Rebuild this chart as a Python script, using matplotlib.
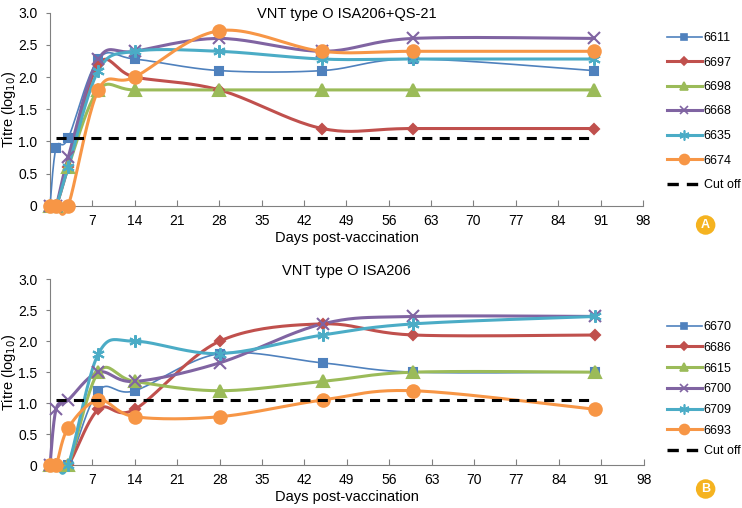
import numpy as np
import matplotlib
matplotlib.use("Agg")
import matplotlib.pyplot as plt
from matplotlib.lines import Line2D

plt.rcParams['font.family'] = ['Liberation Sans Narrow', 'Liberation Sans', 'DejaVu Sans']

days = [0, 1, 3, 8, 14, 28, 45, 60, 90]
cutoff = 1.05
cutoff_days = [1, 90]

# panel A: ISA206+QS-21
names_a = ["6611", "6697", "6698", "6668", "6635", "6674"]
titre_6611 = [0, 0.9, 1.05, 2.28, 2.28, 2.1, 2.1, 2.28, 2.1]
titre_6697 = [0, 0, 0.6, 2.2, 2.0, 1.8, 1.2, 1.2, 1.2]
titre_6698 = [0, 0, 0.6, 1.8, 1.8, 1.8, 1.8, 1.8, 1.8]
titre_6668 = [0, 0, 0.75, 2.28, 2.4, 2.6, 2.4, 2.6, 2.6]
titre_6635 = [0, 0, 0.6, 2.1, 2.4, 2.4, 2.28, 2.28, 2.28]
titre_6674 = [0, 0, 0, 1.8, 2.0, 2.72, 2.4, 2.4, 2.4]

# panel B: ISA206
names_b = ["6670", "6686", "6615", "6700", "6709", "6693"]
titre_6670 = [0, 0, 0, 1.2, 1.2, 1.8, 1.65, 1.5, 1.5]
titre_6686 = [0, 0, 0, 0.9, 0.9, 2.0, 2.28, 2.1, 2.1]
titre_6615 = [0, 0, 0, 1.5, 1.35, 1.2, 1.35, 1.5, 1.5]
titre_6700 = [0, 0.9, 1.05, 1.5, 1.35, 1.65, 2.28, 2.4, 2.4]
titre_6709 = [0, 0, 0, 1.8, 2.0, 1.8, 2.1, 2.28, 2.4]
titre_6693 = [0, 0, 0.6, 1.05, 0.78, 0.78, 1.05, 1.2, 0.9]

series_a = [titre_6611, titre_6697, titre_6698, titre_6668, titre_6635, titre_6674]
series_b = [titre_6670, titre_6686, titre_6615, titre_6700, titre_6709, titre_6693]

colors = ["#4F81BD", "#C0504D", "#9BBB59", "#8064A2", "#4BACC6", "#F79646"]
markers = ["s", "D", "^", "x", (6, 2, 0), "o"]
msizes = [6, 5, 8, 8, 9, 9]
lws = [1.2, 2.2, 2.2, 2.2, 2.2, 2.2]


def smooth(x, y, sx, sy, n=24):
    # Excel-like smoothed line (Catmull-Rom bezier in screen space)
    p = np.column_stack([np.asarray(x, float) * sx, np.asarray(y, float) * sy])
    out = [p[0]]
    for i in range(len(p) - 1):
        p0 = p[i - 1] if i > 0 else p[i]
        p1, p2 = p[i], p[i + 1]
        p3 = p[i + 2] if i + 2 < len(p) else p[i + 1]
        c1 = p1 + (p2 - p0) / 6
        c2 = p2 - (p3 - p1) / 6
        t = np.linspace(0, 1, n)[1:, None]
        seg = (1 - t) ** 3 * p1 + 3 * (1 - t) ** 2 * t * c1 + 3 * (1 - t) * t ** 2 * c2 + t ** 3 * p2
        out.extend(seg)
    out = np.array(out)
    return out[:, 0] / sx, out[:, 1] / sy


def draw_panel(ax, series, names, title, letter, title_y, xlab_y, letter_y, leg_top, leg_step):
    sx = ax.bbox.width / 98
    sy = ax.bbox.height / 3
    for vals, c, m, ms, lw in zip(series, colors, markers, msizes, lws):
        xs, ys = smooth(days, vals, sx, sy)
        ax.plot(xs, ys, color=c, lw=lw, clip_on=False, zorder=3)
        ax.plot(days, vals, ls="none", marker=m, color=c, ms=ms, mew=1.5,
                clip_on=False, zorder=4)
    ax.plot(cutoff_days, [cutoff, cutoff], color="black", lw=2.2,
            dashes=(3.3, 2.4), zorder=5)

    ax.set_xlim(0, 98)
    ax.set_ylim(0, 3)
    ax.set_xticks(range(7, 99, 7))
    ax.set_yticks([0, 0.5, 1.0, 1.5, 2.0, 2.5, 3.0])
    ax.set_yticklabels(["0", "0.5", "1.0", "1.5", "2.0", "2.5", "3.0"])
    for s in ["top", "right"]:
        ax.spines[s].set_visible(False)
    for s in ["left", "bottom"]:
        ax.spines[s].set_color("#808080")
    ax.tick_params(axis="x", direction="in", length=4, color="#808080", labelsize=10, pad=6)
    ax.tick_params(axis="y", direction="out", length=3, color="#808080", labelsize=10, pad=6)
    ax.set_xlabel("Days post-vaccination", fontsize=10.5)
    ax.xaxis.set_label_coords(0.5, xlab_y)
    bb = ax.get_position()
    fig.text(9 / 742, bb.y0 + bb.height / 2, "Titre (log$_{10}$)", fontsize=10.5,
             rotation=90, ha="center", va="center")
    ax.text(0.5, title_y, title, transform=ax.transAxes, fontsize=10.5,
            ha="center", va="center")

    handles = []
    for c, m, ms, lw in zip(colors, markers, msizes, lws):
        handles.append(Line2D([], [], color=c, marker=m, ms=ms * 0.8, lw=lw, mew=1.2))
    handles.append(Line2D([], [], color="black", lw=2.4, dashes=(3.4, 2.4)))
    labels = names + ["Cut off"]
    fig.legend(handles, labels, loc="upper left", bbox_to_anchor=(0.892, leg_top),
               frameon=False, fontsize=9, handlelength=2.8, handletextpad=0.15,
               labelspacing=leg_step, borderaxespad=0)

    fig.text(0.951, letter_y, letter, color="white", fontsize=9,
             weight="bold", ha="center", va="center",
             bbox=dict(boxstyle="circle,pad=0.3", fc="#F5B320", ec="none"))


fig = plt.figure(figsize=(7.42, 5.08), dpi=100)
ax_a = fig.add_axes([0.0674, 0.595, 0.799, 0.380])
ax_b = fig.add_axes([0.0674, 0.0846, 0.800, 0.3656])

draw_panel(ax_a, series_a, names_a, "VNT type O ISA206+QS-21", "A", 0.995, -0.13,
           1 - 225 / 508, 1 - 27 / 508, 1.0)
draw_panel(ax_b, series_b, names_b, "VNT type O ISA206", "B", 1.046, -0.135,
           1 - 489 / 508, 1 - 316 / 508, 0.7)

fig.savefig("out.png", dpi=100)
